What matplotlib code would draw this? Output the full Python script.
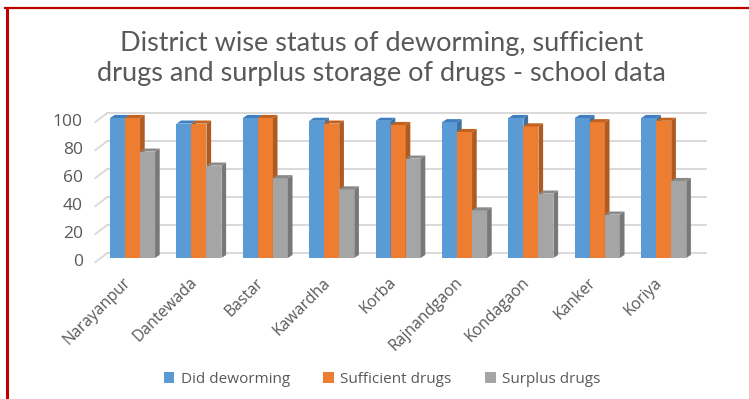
import matplotlib.pyplot as plt
from matplotlib.patches import Polygon, Patch
from matplotlib.lines import Line2D

plt.rcParams['font.family'] = ['Open Sans', 'DejaVu Sans']

districts = ['Narayanpur', 'Dantewada', 'Bastar', 'Kawardha', 'Korba',
             'Rajnandgaon', 'Kondagaon', 'Kanker', 'Koriya']
did_deworming = [100, 96, 100, 98, 98, 97, 100, 100, 100]
sufficient_drugs = [100, 96, 100, 96, 95, 90, 94, 97, 98]
surplus_drugs = [76, 66, 57, 49, 71, 34, 46, 31, 55]
yticks = [0, 20, 40, 60, 80, 100]

series = [
    ('Did deworming', did_deworming, '#5B9BD5', '#41719C', '#3F7FBF'),
    ('Sufficient drugs', sufficient_drugs, '#ED7D31', '#AE5A21', '#C3621F'),
    ('Surplus drugs', surplus_drugs, '#A5A5A5', '#787878', '#8A8A8A'),
]

fig = plt.figure(figsize=(7.49, 3.99), dpi=100)
ax = fig.add_axes([0.1238, 0.3183, 0.82, 0.4035])
ax.set_xlim(-0.6, 8.65)
ax.set_ylim(-10, 105)
ax.axis('off')

# fake depth for the 3d look (data units)
bw = 0.226
dx, dy = 0.07, 2.2       # bar side / top
wx, wy = 0.18, 3.6       # back wall offset
grid_c = '#D9D9D9'
text_c = '#595959'

# gridlines on the back wall, with the little slanted bit on the side wall
for v in yticks:
    ax.plot([-0.56, -0.56 + wx], [v - 2.9, v + wy], color=grid_c, lw=1.4, zorder=0)
    ax.plot([-0.56 + wx, 8.65], [v + wy, v + wy], color=grid_c, lw=1.4, zorder=0)
    ax.text(-0.75, v - 2.9, str(v), ha='right', va='center', fontsize=12.5, color=text_c)

for i, name in enumerate(districts):
    for k, (label, vals, col, side_c, top_c) in enumerate(series):
        x0 = i + (k - 1.5) * bw
        x1 = x0 + bw
        h = vals[i]
        ax.add_patch(Polygon([(x0, 0), (x1, 0), (x1, h), (x0, h)],
                             closed=True, fc=col, ec='none', zorder=2 + k))
        ax.add_patch(Polygon([(x1, 0), (x1 + dx, dy), (x1 + dx, h + dy), (x1, h)],
                             closed=True, fc=side_c, ec='none', zorder=2 + k))
        ax.add_patch(Polygon([(x0, h), (x1, h), (x1 + dx, h + dy), (x0 + dx, h + dy)],
                             closed=True, fc=top_c, ec='none', zorder=2 + k))
    ax.text(i - 0.06, -16, name, rotation=45, rotation_mode='anchor',
            ha='right', va='center', fontsize=11.3, color=text_c)

fig.text(0.509, 0.89, 'District wise status of deworming, sufficient',
         ha='center', va='center', fontsize=19.5, color=text_c, family='Lato')
fig.text(0.509, 0.815, 'drugs and surplus storage of drugs - school data',
         ha='center', va='center', fontsize=19.5, color=text_c, family='Lato')

handles = [Patch(fc=s[2], ec='none', label=s[0]) for s in series]
fig.legend(handles=handles, loc='center', bbox_to_anchor=(0.51, 0.05), ncol=3,
           frameon=False, fontsize=11, labelcolor=text_c,
           handlelength=0.7, handleheight=0.7, handletextpad=0.4, columnspacing=2.2)

# red frame on the top and left edges
fig.add_artist(Line2D([5 / 749, 1], [1 - 8 / 399, 1 - 8 / 399], color='#C00000', lw=1.6))
fig.add_artist(Line2D([6.5 / 749, 6.5 / 749], [0, 1 - 8 / 399], color='#C00000', lw=2.2))

fig.savefig('out.png', dpi=100)
